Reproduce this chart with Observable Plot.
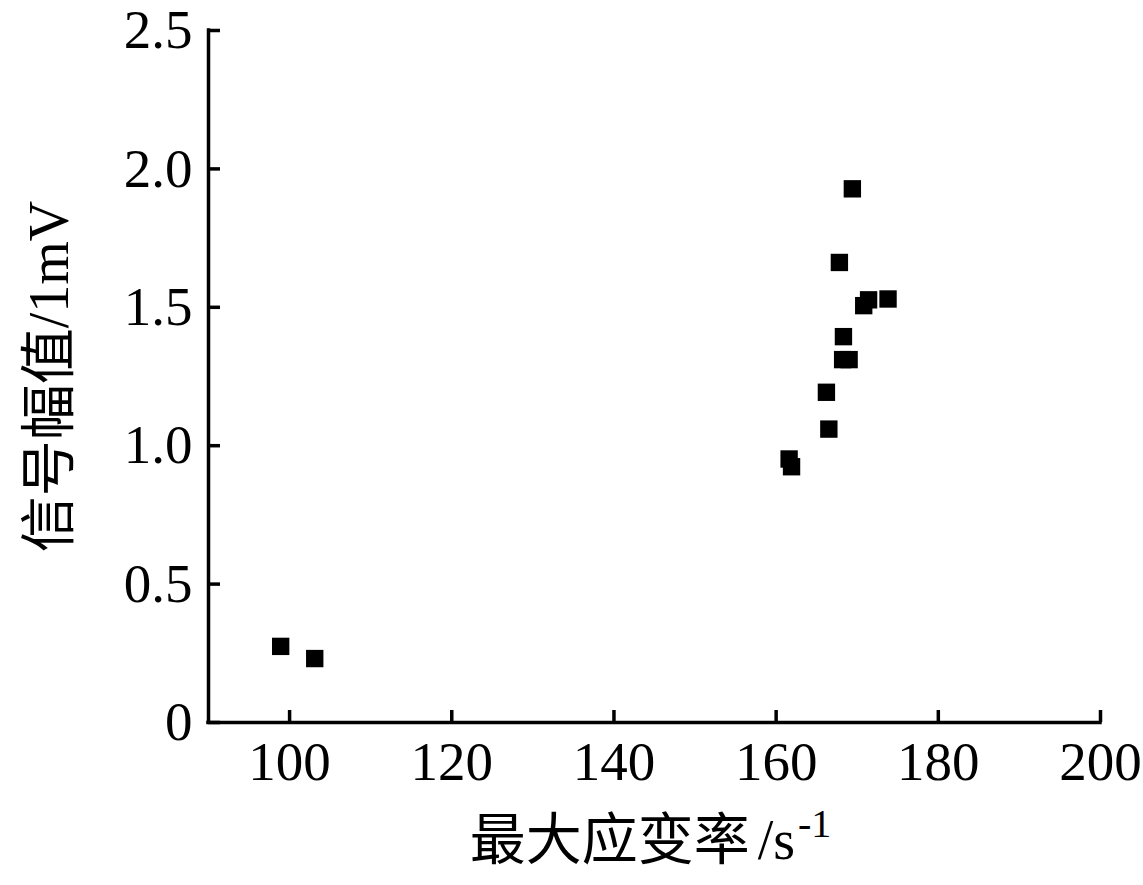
<!DOCTYPE html>
<html>
<head>
<meta charset="utf-8">
<script src="https://cdn.jsdelivr.net/npm/d3@7"></script>
<script src="https://cdn.jsdelivr.net/npm/@observablehq/plot@0.6"></script>
<style>
  html, body { margin: 0; padding: 0; background: #fff; }
</style>
</head>
<body>
<div id="chart"></div>
<script>
const xTicks = [100, 120, 140, 160, 180, 200];
const yTicks = [0, 0.5, 1.0, 1.5, 2.0, 2.5];
const yTickLabels = ["0", "0.5", "1.0", "1.5", "2.0", "2.5"];
const strainRate = [98.9, 103.1, 161.6, 161.9, 166.5, 166.2, 168.2, 169.0, 168.3, 167.8, 169.4, 170.8, 171.4, 173.8];
const amplitude  = [0.275, 0.231, 0.952, 0.924, 1.060, 1.193, 1.311, 1.311, 1.394, 1.662, 1.928, 1.506, 1.527, 1.530];
const xTitleMain = "最大应变率";
const xTitleUnit = "/s";
const xTitleSup = "-1";
const yTitle = "信号幅值/1mV";

const points = strainRate.map((x, i) => ({x, y: amplitude[i]}));

const W = 1143, H = 885;
const mL = 208, mR = 43, mT = 30, mB = 163;
const innerW = W - mL - mR, innerH = H - mT - mB;
const font = "'Liberation Serif', 'Times New Roman', 'Noto Sans CJK SC', serif";
const sw = 3.5;
const xTitleFull = xTitleMain + xTitleUnit + xTitleSup;

const svg = Plot.plot({
  width: W, height: H,
  marginLeft: mL, marginRight: mR, marginTop: mT, marginBottom: mB,
  x: {domain: [90, 200]},
  y: {domain: [0, 2.5]},
  style: {fontFamily: font, background: "#fff", color: "#000"},
  marks: [
    Plot.axisX(xTicks, {tickSize: 0, tickPadding: 18, fontSize: 55, fontFamily: font, label: null, fill: "#000"}),
    Plot.axisY(yTicks, {tickSize: 0, tickPadding: 16, fontSize: 55, fontFamily: font, label: null, fill: "#000",
      tickFormat: d => yTickLabels[yTicks.indexOf(d)]}),
    Plot.tickX(xTicks, {x: d => d, stroke: "#000", strokeWidth: sw, insetTop: innerH - 12}),
    Plot.tickY(yTicks, {y: d => d, stroke: "#000", strokeWidth: sw, insetRight: innerW - 12}),
    Plot.ruleX([90], {stroke: "#000", strokeWidth: sw, strokeLinecap: "square"}),
    Plot.ruleY([0], {stroke: "#000", strokeWidth: sw, strokeLinecap: "square"}),
    Plot.dot(points, {x: "x", y: "y", symbol: "square", r: 9.8, fill: "#000", stroke: "none"}),
    Plot.text([xTitleFull], {text: d => d, frameAnchor: "bottom", textAnchor: "middle", dx: -4, dy: 119, lineAnchor: "middle",
      fontSize: 56, fontFamily: font, fill: "#000"}),
    Plot.text([yTitle], {text: d => d, frameAnchor: "left", textAnchor: "middle", dx: -158, rotate: -90, lineAnchor: "middle",
      fontSize: 56, fontFamily: font, fill: "#000"})
  ]
});

// unit with superscript on the x-axis title
d3.select(svg).selectAll("text")
  .filter(function() { return this.textContent === xTitleFull; })
  .each(function() {
    const t = d3.select(this);
    t.text("");
    t.append("tspan").text(xTitleMain);
    t.append("tspan").attr("dx", 8).text(xTitleUnit);
    t.append("tspan").attr("font-size", 40).attr("dx", 3).attr("dy", -22).text(xTitleSup);
  });

document.getElementById("chart").appendChild(svg);
</script>
</body>
</html>
